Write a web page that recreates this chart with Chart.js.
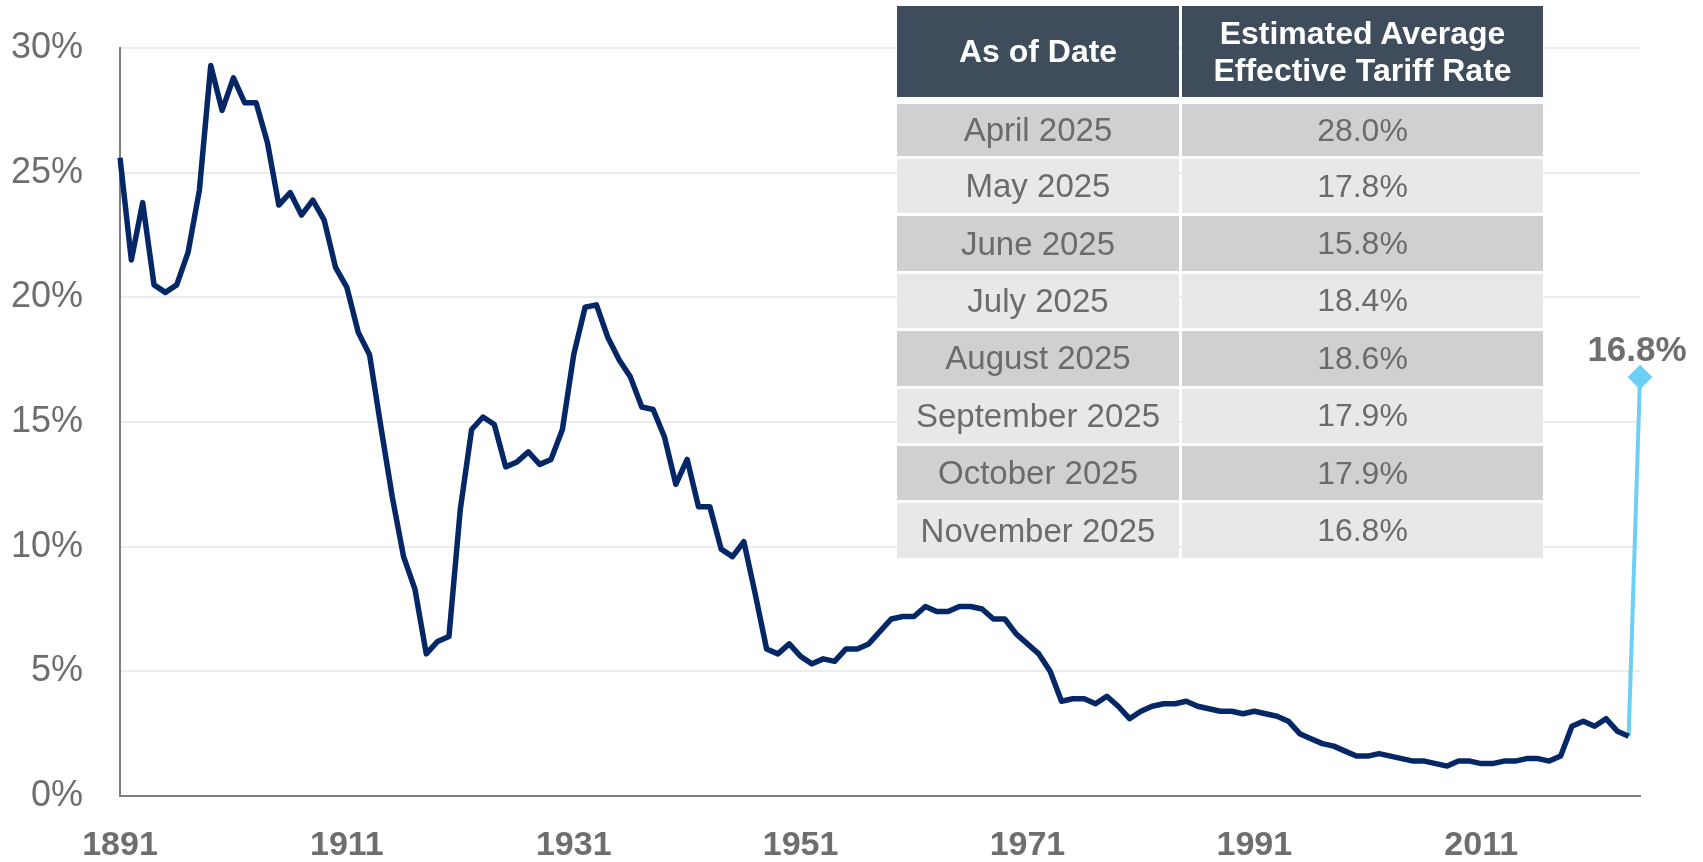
<!DOCTYPE html>
<html>
<head>
<meta charset="utf-8">
<title>US average effective tariff rate</title>
<script src="https://cdn.jsdelivr.net/npm/chart.js@4.4.1/dist/chart.umd.min.js"></script>
<style>
    html, body { margin: 0; padding: 0; background: #fff; }
    #wrap { position: relative; width: 1703px; height: 862px; overflow: hidden; }
    #tariffChart { position: absolute; left: 0; top: 0; }
    #rateTable {
        position: absolute;
        left: 897px;
        top: 6px;
        display: grid;
        grid-template-columns: 282px 361px;
        grid-template-rows: 95px 52px repeat(7, 54.4px);
        column-gap: 3px;
        row-gap: 3px;
        font-family: "Liberation Sans", Arial, sans-serif;
    }
    #rateTable .head {
        height: 91px;
        background: #3e4c5b;
        color: #fff;
        font-weight: bold;
        font-size: 32px;
        line-height: 37px;
        display: flex;
        align-items: center;
        justify-content: center;
        text-align: center;
    }
    #rateTable .cell {
        color: #6b6b6b;
        display: flex;
        align-items: center;
        justify-content: center;
    }
    #rateTable .date { font-size: 33px; }
    #rateTable .rate { font-size: 32px; }
    #rateTable .dark { background: #d0d0d2; }
    #rateTable .light { background: #e8e8e8; }
</style>
</head>
<body>
<div id="wrap">
    <canvas id="tariffChart" width="1703" height="862"></canvas>
    <div id="rateTable"></div>
</div>
<script>
// Yearly average effective tariff rate, 1891-2024 (%)
const historicalRate = [
    25.6, 21.5, 23.8, 20.5, 20.2, 20.5, 21.8, 24.3, 29.3, 27.5,   // 1891-1900
    28.8, 27.8, 27.8, 26.2, 23.7, 24.2, 23.3, 23.9, 23.1, 21.2,   // 1901-1910
    20.4, 18.6, 17.7, 14.8, 12.0, 9.6, 8.3, 5.7, 6.2, 6.4,        // 1911-1920
    11.5, 14.7, 15.2, 14.9, 13.2, 13.4, 13.8, 13.3, 13.5, 14.7,   // 1921-1930
    17.7, 19.6, 19.7, 18.4, 17.5, 16.8, 15.6, 15.5, 14.4, 12.5,   // 1931-1940
    13.5, 11.6, 11.6, 9.9, 9.6, 10.2, 8.1, 5.9, 5.7, 6.1,         // 1941-1950
    5.6, 5.3, 5.5, 5.4, 5.9, 5.9, 6.1, 6.6, 7.1, 7.2,             // 1951-1960
    7.2, 7.6, 7.4, 7.4, 7.6, 7.6, 7.5, 7.1, 7.1, 6.5,             // 1961-1970
    6.1, 5.7, 5.0, 3.8, 3.9, 3.9, 3.7, 4.0, 3.6, 3.1,             // 1971-1980
    3.4, 3.6, 3.7, 3.7, 3.8, 3.6, 3.5, 3.4, 3.4, 3.3,             // 1981-1990
    3.4, 3.3, 3.2, 3.0, 2.5, 2.3, 2.1, 2.0, 1.8, 1.6,             // 1991-2000
    1.6, 1.7, 1.6, 1.5, 1.4, 1.4, 1.3, 1.2, 1.4, 1.4,             // 2001-2010
    1.3, 1.3, 1.4, 1.4, 1.5, 1.5, 1.4, 1.6, 2.8, 3.0,             // 2011-2020
    2.8, 3.1, 2.6, 2.4                                            // 2021-2024
];

// Latest estimate (2025)
const latestEstimate = 16.8;

const firstYear = 1891;
const lastYear = 2025;
const xTickYears = [1891, 1911, 1931, 1951, 1971, 1991, 2011];
const yTicks = [0, 5, 10, 15, 20, 25, 30];

// Table data
const tableHeaders = ['As of Date', 'Estimated Average<br>Effective Tariff Rate'];
const tableDates = ['April 2025', 'May 2025', 'June 2025', 'July 2025',
    'August 2025', 'September 2025', 'October 2025', 'November 2025'];
const tableRates = [28.0, 17.8, 15.8, 18.4, 18.6, 17.9, 17.9, 16.8];

const years = [];
for (let y = firstYear; y <= lastYear; y++) years.push(y);

const lastIdx = years.length - 1;
// Connector from the last yearly value to the 2025 estimate
const estimateLine = years.map((y, i) => {
    if (i === historicalRate.length - 1) return historicalRate[historicalRate.length - 1];
    if (i === lastIdx) return latestEstimate;
    return null;
});

const fontFamily = '"Liberation Sans", Arial, sans-serif';
const labelGray = '#6e6e6e';

// Draw the value label above the diamond
const endLabel = {
    id: 'endLabel',
    afterDatasetsDraw(chart) {
        const pt = chart.getDatasetMeta(1).data[lastIdx];
        if (!pt) return;
        const ctx = chart.ctx;
        ctx.save();
        ctx.font = 'bold 35px ' + fontFamily;
        ctx.fillStyle = labelGray;
        ctx.textAlign = 'center';
        ctx.textBaseline = 'alphabetic';
        ctx.fillText(latestEstimate.toFixed(1) + '%', pt.x - 3, pt.y - 16);
        ctx.restore();
    }
};

const ctx = document.getElementById('tariffChart').getContext('2d');
new Chart(ctx, {
    type: 'line',
    data: {
        labels: years,
        datasets: [{
            data: historicalRate,
            borderColor: '#062766',
            borderWidth: 5.5,
            borderJoinStyle: 'round',
            pointRadius: 0,
            tension: 0,
            order: 0
        }, {
            data: estimateLine,
            borderColor: '#6dcff6',
            backgroundColor: '#6dcff6',
            borderWidth: 4,
            pointStyle: 'rectRot',
            pointRadius: c => c.dataIndex === lastIdx ? 11 : 0,
            pointBorderWidth: 2,
            pointBorderColor: '#6dcff6',
            pointBackgroundColor: '#6dcff6',
            tension: 0,
            order: 1
        }]
    },
    options: {
        responsive: false,
        animation: false,
        layout: {
            padding: { top: 48, right: 63, bottom: 0, left: 0 }
        },
        plugins: {
            legend: { display: false },
            tooltip: { enabled: false }
        },
        scales: {
            x: {
                type: 'category',
                offset: false,
                grid: { display: false, drawTicks: false },
                border: { display: true, color: '#7f7f7f', width: 2 },
                ticks: {
                    autoSkip: false,
                    maxRotation: 0,
                    minRotation: 0,
                    padding: 29,
                    color: labelGray,
                    font: { family: fontFamily, size: 34, weight: 'bold' },
                    callback: (value, index) => xTickYears.includes(years[index]) ? String(years[index]) : null
                },
                afterFit: scale => { scale.height = 66; }
            },
            y: {
                min: 0,
                max: 30,
                afterBuildTicks: scale => { scale.ticks = yTicks.map(v => ({ value: v })); },
                // invisible tick marks give the label gap without extra top padding
                grid: { color: '#ececec', lineWidth: 2, drawTicks: true, tickLength: 37, tickColor: 'rgba(0,0,0,0)' },
                border: { display: true, color: '#7f7f7f', width: 2 },
                ticks: {
                    padding: 0,
                    color: labelGray,
                    font: { family: fontFamily, size: 36 },
                    callback: v => v + '%'
                },
                afterFit: scale => { scale.width = 120; }
            }
        }
    },
    plugins: [endLabel]
});

// Build the table overlay
const table = document.getElementById('rateTable');
tableHeaders.forEach(h => {
    const div = document.createElement('div');
    div.className = 'head';
    div.innerHTML = h;
    table.appendChild(div);
});
tableDates.forEach((d, i) => {
    const shade = i % 2 === 0 ? 'dark' : 'light';
    const dateCell = document.createElement('div');
    dateCell.className = 'cell date ' + shade;
    dateCell.textContent = d;
    table.appendChild(dateCell);
    const rateCell = document.createElement('div');
    rateCell.className = 'cell rate ' + shade;
    rateCell.textContent = tableRates[i].toFixed(1) + '%';
    table.appendChild(rateCell);
});
</script>
</body>
</html>
